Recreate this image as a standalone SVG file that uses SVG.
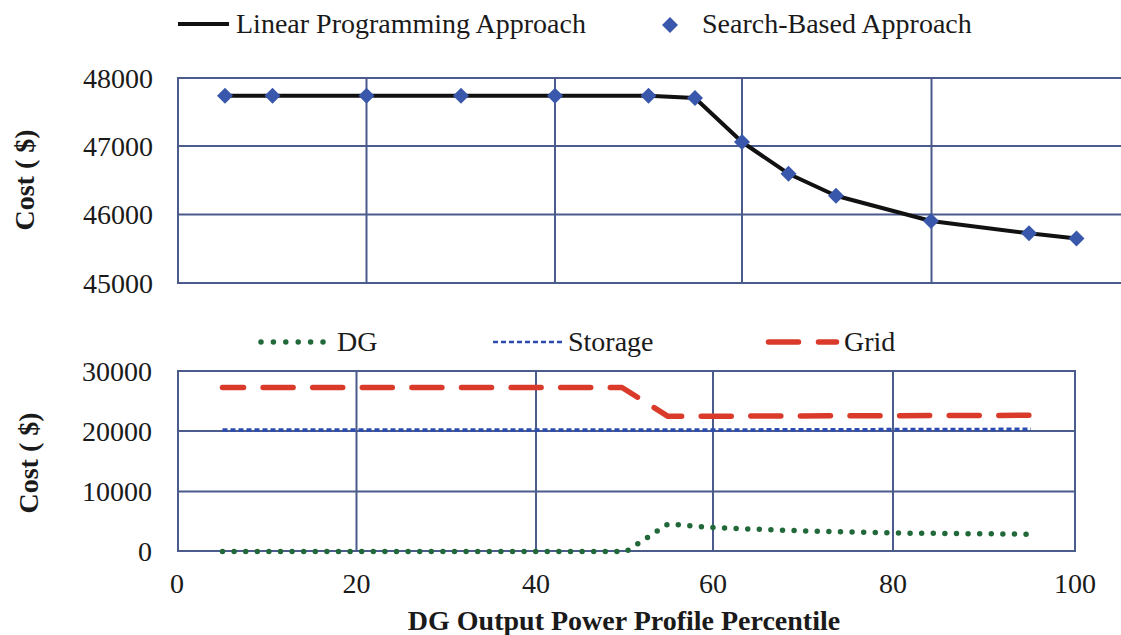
<svg xmlns="http://www.w3.org/2000/svg" width="1121" height="635" viewBox="0 0 1121 635">
<style>
text{font-family:"Liberation Serif","Times New Roman",serif;font-size:28px;fill:#1a1a1a}
.b{font-weight:bold}
.tick{text-anchor:end}
.xt{text-anchor:middle}
.grid{stroke:#4a5b8c;stroke-width:2;fill:none}
.lp{stroke:#111;stroke-width:4;fill:none;stroke-linejoin:round}
.dg{stroke:#22693a;stroke-width:5.5;fill:none;stroke-linecap:round;stroke-dasharray:0 11.6}
.st{stroke:#2c4cb0;stroke-width:3.5;fill:none;stroke-dasharray:5 3}
.gr{stroke:#d93a2a;stroke-width:5.5;fill:none;stroke-linecap:round;stroke-linejoin:round;stroke-dasharray:30 19.6}
</style>
<defs>
<path id="dia" d="M0,-8 L8,0 L0,8 L-8,0 Z" fill="#3a58ab"/>
</defs>

<g id="top-legend">
<line x1="178" y1="24" x2="229" y2="24" stroke="#111" stroke-width="4"/>
<text x="236" y="33">Linear Programming Approach</text>
<use href="#dia" x="670" y="25"/>
<text x="702" y="33">Search-Based Approach</text>
</g>

<g id="top-axes">
<rect class="grid" x="178" y="78" width="960" height="205"/>
<line class="grid" x1="178" y1="146" x2="1121" y2="146"/>
<line class="grid" x1="178" y1="214.5" x2="1121" y2="214.5"/>
<line class="grid" x1="366.5" y1="78" x2="366.5" y2="283"/>
<line class="grid" x1="555" y1="78" x2="555" y2="283"/>
<line class="grid" x1="742" y1="78" x2="742" y2="283"/>
<line class="grid" x1="931.5" y1="78" x2="931.5" y2="283"/>
<text class="tick" x="153" y="87.5">48000</text>
<text class="tick" x="153" y="155.5">47000</text>
<text class="tick" x="153" y="224">46000</text>
<text class="tick" x="153" y="292.5">45000</text>
<text class="b xt" transform="translate(34,180) rotate(-90)">Cost ( $)</text>
</g>

<g id="top-series">
<polyline class="lp" points="225,95.7 272.5,95.7 366.5,95.7 461,95.7 555,95.7 648.5,95.7 695,98 742,142 788.5,173.7 836,195.7 931,221 1029,233.3 1076.5,238.5"/>
<use href="#dia" x="225" y="95.7"/>
<use href="#dia" x="272.5" y="95.7"/>
<use href="#dia" x="366.5" y="95.7"/>
<use href="#dia" x="461" y="95.7"/>
<use href="#dia" x="555" y="95.7"/>
<use href="#dia" x="648.5" y="95.7"/>
<use href="#dia" x="695" y="98"/>
<use href="#dia" x="742" y="142"/>
<use href="#dia" x="788.5" y="173.7"/>
<use href="#dia" x="836" y="195.7"/>
<use href="#dia" x="931" y="221"/>
<use href="#dia" x="1029" y="233.3"/>
<use href="#dia" x="1076.5" y="238.5"/>
</g>

<g id="bottom-legend">
<line class="dg" x1="261" y1="342" x2="325" y2="342" style="stroke-dasharray:0 12.4"/>
<text x="337" y="351">DG</text>
<line class="st" x1="493" y1="342" x2="562" y2="342" style="stroke-width:2.5"/>
<text x="568" y="351">Storage</text>
<line x1="768.5" y1="342" x2="798.5" y2="342" stroke="#d93a2a" stroke-width="5.5" stroke-linecap="round"/>
<line x1="818.5" y1="342" x2="836.5" y2="342" stroke="#d93a2a" stroke-width="5.5" stroke-linecap="round"/>
<text x="844" y="351">Grid</text>
</g>

<g id="bottom-axes">
<rect class="grid" x="178" y="371" width="897" height="180"/>
<line class="grid" x1="178" y1="431" x2="1075" y2="431"/>
<line class="grid" x1="178" y1="491.5" x2="1075" y2="491.5"/>
<line class="grid" x1="356.5" y1="371" x2="356.5" y2="551"/>
<line class="grid" x1="536" y1="371" x2="536" y2="551"/>
<line class="grid" x1="713" y1="371" x2="713" y2="551"/>
<line class="grid" x1="893" y1="371" x2="893" y2="551"/>
<text class="tick" x="152" y="380.5">30000</text>
<text class="tick" x="152" y="440.5">20000</text>
<text class="tick" x="152" y="501">10000</text>
<text class="tick" x="152" y="560.5">0</text>
<text class="xt" x="177" y="593">0</text>
<text class="xt" x="356.5" y="593">20</text>
<text class="xt" x="536" y="593">40</text>
<text class="xt" x="713" y="593">60</text>
<text class="xt" x="893" y="593">80</text>
<text class="xt" x="1075" y="593">100</text>
<text class="b xt" transform="translate(38,463) rotate(-90)">Cost ( $)</text>
<text class="b xt" x="624" y="630">DG Output Power Profile Percentile</text>
</g>

<g id="bottom-series">
<polyline class="gr" points="222.5,387.5 622,387.5 668,416.3 1031,415.3" style="stroke-dashoffset:9"/>
<polyline class="st" points="222.5,430 700,430 1031,429.3"/>
<polyline class="dg" points="222.5,551.5 626,551.5 668,524 715,527.7 805,531 893,533 1030,534.2"/>
</g>
</svg>
